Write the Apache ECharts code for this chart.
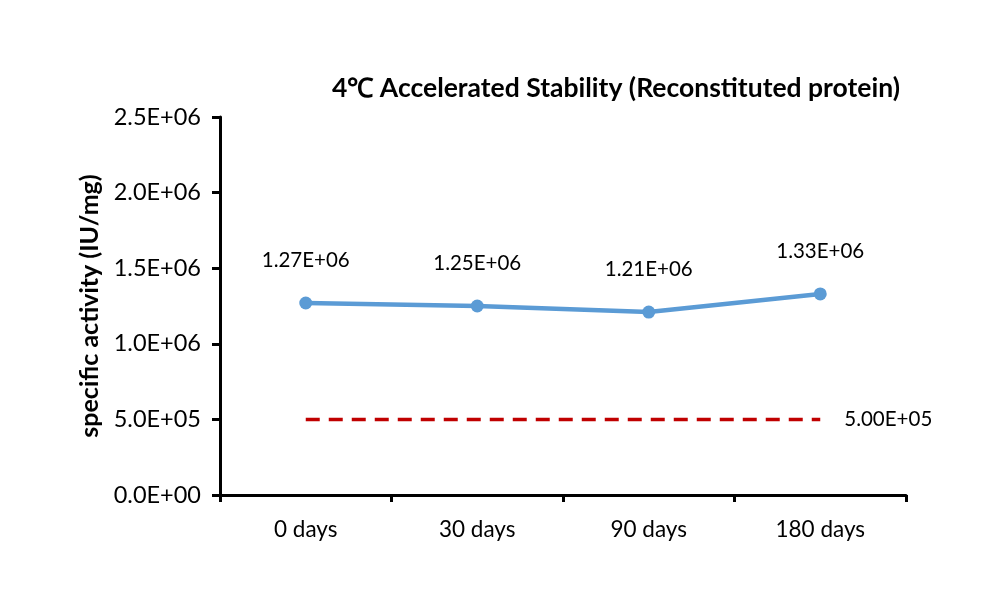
<!DOCTYPE html>
<html><head><meta charset="utf-8">
<script src="https://cdn.jsdelivr.net/npm/echarts@6/dist/echarts.min.js"></script>
<style>html,body{margin:0;padding:0;background:#fff}#c{width:1000px;height:590px}</style>
</head><body><div id="c"></div>
<script>
const categories = ['0 days', '30 days', '90 days', '180 days'];
const activity = [1.27e6, 1.25e6, 1.21e6, 1.33e6];
const specLimit = [5.0e5, 5.0e5, 5.0e5, 5.0e5];
const titleText = '4\u2103 Accelerated Stability (Reconstituted protein)';
const yAxisName = 'specific activity (IU/mg)';

function sci(v, d) {
  if (v === 0) return (0).toFixed(d) + 'E+00';
  const e = Math.floor(Math.log10(Math.abs(v)) + 1e-9);
  const m = v / Math.pow(10, e);
  return m.toFixed(d) + 'E' + (e >= 0 ? '+' : '-') + String(Math.abs(e)).padStart(2, '0');
}

const font = 'Lato, "Open Sans", sans-serif';
const chart = echarts.init(document.getElementById('c'));
chart.setOption({
  animation: false,
  backgroundColor: '#fff',
  title: {
    text: titleText, left: 611, top: 70, textAlign: 'center',
    textStyle: { fontFamily: font, fontWeight: 'bold', fontSize: 26.5, color: '#000' }
  },
  grid: { left: 220, right: 94, top: 117, bottom: 95, containLabel: false },
  xAxis: {
    type: 'category', data: categories, boundaryGap: true,
    axisLine: { lineStyle: { color: '#000', width: 3 } },
    axisTick: { show: true, length: 7, lineStyle: { color: '#000', width: 3 } },
    axisLabel: { color: '#000', fontFamily: font, fontSize: 22.5, margin: 23 },
    splitLine: { show: false }
  },
  yAxis: {
    type: 'value', min: 0, max: 2.5e6, interval: 5e5,
    name: yAxisName, nameLocation: 'middle', nameGap: 117, nameRotate: 90,
    nameTextStyle: { fontFamily: font, fontWeight: 'bold', fontSize: 25, color: '#000' },
    axisLine: { show: true, lineStyle: { color: '#000', width: 3 } },
    axisTick: { show: true, inside: false, length: 8, lineStyle: { color: '#000', width: 3 } },
    axisLabel: { color: '#000', fontFamily: font, fontSize: 23.5, margin: 19,
      formatter: v => sci(v, 1) },
    splitLine: { show: false }
  },
  series: [
    {
      type: 'line', data: activity,
      lineStyle: { color: '#5B9BD5', width: 4.5 },
      itemStyle: { color: '#5B9BD5' },
      symbol: 'circle', symbolSize: 13,
      label: { show: true, position: 'top', distance: 26, color: '#000',
        fontFamily: font, fontSize: 20.5, formatter: p => sci(p.value, 2) }
    },
    {
      type: 'line', data: specLimit,
      lineStyle: { color: '#C00000', width: 3.5, type: [14, 9] },
      itemStyle: { color: '#C00000' },
      symbol: 'none',
      label: { show: false },
      endLabel: { show: true, color: '#000', fontFamily: font, fontSize: 20.5, distance: 24,
        formatter: p => sci(p.value, 2) }
    }
  ]
});
</script></body></html>
